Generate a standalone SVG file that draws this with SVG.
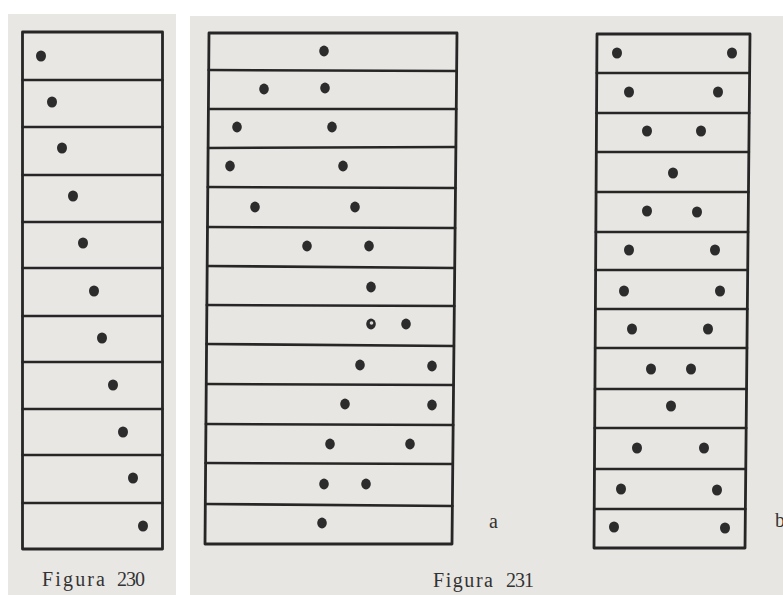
<svg xmlns="http://www.w3.org/2000/svg" width="783" height="595" viewBox="0 0 783 595">
<style>
.frame{fill:none;stroke:#262626;stroke-width:2.8;stroke-linejoin:round}
.rule{stroke:#262626;stroke-width:2.6;stroke-linecap:round}
.dot{fill:#2c2c2c}
.lbl{font-family:"Liberation Serif","Times New Roman",serif;font-size:20px;fill:#333333}
</style>
<rect x="0" y="0" width="783" height="595" fill="#ffffff"/>
<rect x="8" y="14" width="168" height="581" fill="#e9e7e4"/>
<rect x="190" y="16" width="593" height="579" fill="#e8e6e2"/>

<g id="figura230">
<rect class="frame" x="22.5" y="32" width="140" height="517"/>
<g class="rules">
<line class="rule" x1="22.5" y1="80" x2="162.5" y2="80"/>
<line class="rule" x1="22.5" y1="127" x2="162.5" y2="127"/>
<line class="rule" x1="22.5" y1="175" x2="162.5" y2="175"/>
<line class="rule" x1="22.5" y1="222" x2="162.5" y2="222"/>
<line class="rule" x1="22.5" y1="268" x2="162.5" y2="268"/>
<line class="rule" x1="22.5" y1="316" x2="162.5" y2="316"/>
<line class="rule" x1="22.5" y1="362" x2="162.5" y2="362"/>
<line class="rule" x1="22.5" y1="409" x2="162.5" y2="409"/>
<line class="rule" x1="22.5" y1="455" x2="162.5" y2="455"/>
<line class="rule" x1="22.5" y1="503" x2="162.5" y2="503"/>
</g>
<g class="dots">
<ellipse class="dot" cx="41" cy="56" rx="5" ry="5.6"/>
<ellipse class="dot" cx="52" cy="102" rx="5" ry="5.6"/>
<ellipse class="dot" cx="62" cy="148" rx="5" ry="5.6"/>
<ellipse class="dot" cx="73" cy="196" rx="5" ry="5.6"/>
<ellipse class="dot" cx="83" cy="243" rx="5" ry="5.6"/>
<ellipse class="dot" cx="94" cy="291" rx="5" ry="5.6"/>
<ellipse class="dot" cx="102" cy="338" rx="5" ry="5.6"/>
<ellipse class="dot" cx="113" cy="385" rx="5" ry="5.6"/>
<ellipse class="dot" cx="123" cy="432" rx="5" ry="5.6"/>
<ellipse class="dot" cx="133" cy="478" rx="5" ry="5.6"/>
<ellipse class="dot" cx="143" cy="526" rx="5" ry="5.6"/>
</g>
<text class="lbl" y="586"><tspan x="42" textLength="63" lengthAdjust="spacing">Figura</tspan><tspan x="117" textLength="28" lengthAdjust="spacing">230</tspan></text>
</g>

<g id="figura231a">
<polygon class="frame" points="209,33 457,33 452,544 205,544"/>
<g class="rules">
<line class="rule" x1="208.7" y1="70" x2="456.6" y2="71"/>
<line class="rule" x1="208.4" y1="109" x2="456.3" y2="109"/>
<line class="rule" x1="208.1" y1="148" x2="455.9" y2="147"/>
<line class="rule" x1="207.8" y1="187" x2="455.5" y2="188"/>
<line class="rule" x1="207.5" y1="227" x2="455.1" y2="228"/>
<line class="rule" x1="207.2" y1="266" x2="454.7" y2="268"/>
<line class="rule" x1="206.8" y1="305" x2="454.3" y2="306"/>
<line class="rule" x1="206.5" y1="344" x2="453.9" y2="346"/>
<line class="rule" x1="206.2" y1="384" x2="453.5" y2="385"/>
<line class="rule" x1="205.9" y1="424" x2="453.2" y2="425"/>
<line class="rule" x1="205.6" y1="463" x2="452.8" y2="464"/>
<line class="rule" x1="205.3" y1="504" x2="452.4" y2="506"/>
</g>
<g class="dots">
<ellipse class="dot" cx="324" cy="51" rx="4.8" ry="5.4"/>
<ellipse class="dot" cx="264" cy="89" rx="4.8" ry="5.4"/>
<ellipse class="dot" cx="325" cy="88" rx="4.8" ry="5.4"/>
<ellipse class="dot" cx="237" cy="127" rx="4.8" ry="5.4"/>
<ellipse class="dot" cx="332" cy="127" rx="4.8" ry="5.4"/>
<ellipse class="dot" cx="230" cy="166" rx="4.8" ry="5.4"/>
<ellipse class="dot" cx="343" cy="166" rx="4.8" ry="5.4"/>
<ellipse class="dot" cx="255" cy="207" rx="4.8" ry="5.4"/>
<ellipse class="dot" cx="355" cy="207" rx="4.8" ry="5.4"/>
<ellipse class="dot" cx="307" cy="246" rx="4.8" ry="5.4"/>
<ellipse class="dot" cx="369" cy="246" rx="4.8" ry="5.4"/>
<ellipse class="dot" cx="371" cy="287" rx="4.8" ry="5.4"/>
<ellipse class="dot" cx="371" cy="324" rx="4.8" ry="5.4"/>
<circle cx="371.5" cy="323" r="1.8" fill="#d8d6d2"/>
<ellipse class="dot" cx="406" cy="324" rx="4.8" ry="5.4"/>
<ellipse class="dot" cx="360" cy="365" rx="4.8" ry="5.4"/>
<ellipse class="dot" cx="432" cy="366" rx="4.8" ry="5.4"/>
<ellipse class="dot" cx="345" cy="404" rx="4.8" ry="5.4"/>
<ellipse class="dot" cx="432" cy="405" rx="4.8" ry="5.4"/>
<ellipse class="dot" cx="330" cy="444" rx="4.8" ry="5.4"/>
<ellipse class="dot" cx="410" cy="444" rx="4.8" ry="5.4"/>
<ellipse class="dot" cx="324" cy="484" rx="4.8" ry="5.4"/>
<ellipse class="dot" cx="366" cy="484" rx="4.8" ry="5.4"/>
<ellipse class="dot" cx="322" cy="523" rx="4.8" ry="5.4"/>
</g>
<text class="lbl" x="489" y="528" font-size="15">a</text>
</g>

<g id="figura231b">
<polygon class="frame" points="597,34 750,34 745,548 594,548"/>
<g class="rules">
<line class="rule" x1="596.8" y1="73" x2="749.6" y2="73"/>
<line class="rule" x1="596.5" y1="113" x2="749.2" y2="113"/>
<line class="rule" x1="596.3" y1="152" x2="748.9" y2="152"/>
<line class="rule" x1="596.1" y1="192" x2="748.5" y2="192"/>
<line class="rule" x1="595.8" y1="232" x2="748.1" y2="232"/>
<line class="rule" x1="595.6" y1="270" x2="747.7" y2="270"/>
<line class="rule" x1="595.4" y1="309" x2="747.4" y2="309"/>
<line class="rule" x1="595.1" y1="348" x2="747.0" y2="348"/>
<line class="rule" x1="594.9" y1="389" x2="746.5" y2="389"/>
<line class="rule" x1="594.7" y1="428" x2="746.2" y2="428"/>
<line class="rule" x1="594.4" y1="469" x2="745.8" y2="469"/>
<line class="rule" x1="594.2" y1="509" x2="745.4" y2="509"/>
</g>
<g class="dots">
<ellipse class="dot" cx="617" cy="53" rx="5" ry="5.6"/>
<ellipse class="dot" cx="732" cy="53" rx="5" ry="5.6"/>
<ellipse class="dot" cx="629" cy="92" rx="5" ry="5.6"/>
<ellipse class="dot" cx="718" cy="92" rx="5" ry="5.6"/>
<ellipse class="dot" cx="647" cy="131" rx="5" ry="5.6"/>
<ellipse class="dot" cx="701" cy="131" rx="5" ry="5.6"/>
<ellipse class="dot" cx="673" cy="173" rx="5" ry="5.6"/>
<ellipse class="dot" cx="647" cy="211" rx="5" ry="5.6"/>
<ellipse class="dot" cx="697" cy="212" rx="5" ry="5.6"/>
<ellipse class="dot" cx="629" cy="250" rx="5" ry="5.6"/>
<ellipse class="dot" cx="715" cy="250" rx="5" ry="5.6"/>
<ellipse class="dot" cx="624" cy="291" rx="5" ry="5.6"/>
<ellipse class="dot" cx="720" cy="291" rx="5" ry="5.6"/>
<ellipse class="dot" cx="632" cy="329" rx="5" ry="5.6"/>
<ellipse class="dot" cx="708" cy="329" rx="5" ry="5.6"/>
<ellipse class="dot" cx="651" cy="369" rx="5" ry="5.6"/>
<ellipse class="dot" cx="691" cy="369" rx="5" ry="5.6"/>
<ellipse class="dot" cx="671" cy="406" rx="5" ry="5.6"/>
<ellipse class="dot" cx="637" cy="448" rx="5" ry="5.6"/>
<ellipse class="dot" cx="704" cy="448" rx="5" ry="5.6"/>
<ellipse class="dot" cx="621" cy="489" rx="5" ry="5.6"/>
<ellipse class="dot" cx="717" cy="490" rx="5" ry="5.6"/>
<ellipse class="dot" cx="614" cy="527" rx="5" ry="5.6"/>
<ellipse class="dot" cx="725" cy="528" rx="5" ry="5.6"/>
</g>
<text class="lbl" x="775" y="527" font-size="17">b</text>
</g>

<text class="lbl" y="587"><tspan x="433" textLength="60" lengthAdjust="spacing">Figura</tspan><tspan x="506" textLength="28" lengthAdjust="spacing">231</tspan></text>
</svg>
